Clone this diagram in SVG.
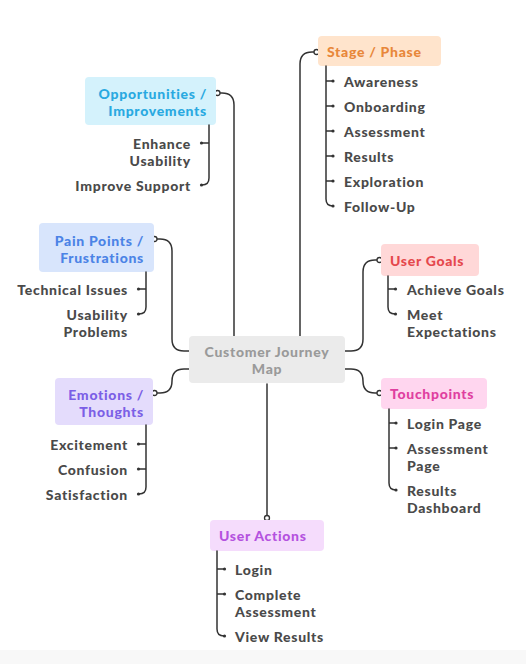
<svg xmlns="http://www.w3.org/2000/svg" width="526" height="664" viewBox="0 0 526 664">
<defs>
<style>
.t{font-family:Lato,"Open Sans","Liberation Sans",sans-serif;font-weight:900;font-size:14px;dominant-baseline:central;letter-spacing:0.7px}
.c{fill:#4a4a4a}
.e{text-anchor:end}
.m{text-anchor:middle}
.ln{fill:none;stroke:#333;stroke-width:1.5;stroke-linecap:round}
.cir{fill:#fff;stroke:#333;stroke-width:1.3}
.dot{fill:#333}
</style>
</defs>
<rect x="0" y="0" width="526" height="664" fill="#fff"/>
<rect x="0" y="650" width="526" height="14" fill="#f8f8f8"/>

<g id="connectors">
<path class="ln" d="M300,336 V64 Q300,52 312,52 H314"/>
<path class="ln" d="M220,93 H222 Q234,93 234,105 V336"/>
<path class="ln" d="M157,239 H160 Q172,239 172,251 V339 Q172,351 184,351 H189"/>
<path class="ln" d="M157,393 H160 Q172,393 172,381 Q172,369 184,369 H189"/>
<path class="ln" d="M345,351 H351 Q363,351 363,339 V272 Q363,260 375,260 H377"/>
<path class="ln" d="M345,369 H351 Q363,369 363,381 Q363,393 375,393 H377"/>
<path class="ln" d="M267,384 V515.5"/>
<circle class="cir" cx="316.5" cy="52" r="2.5"/>
<circle class="cir" cx="217.5" cy="93" r="2.5"/>
<circle class="cir" cx="154.5" cy="239" r="2.5"/>
<circle class="cir" cx="154.5" cy="393" r="2.5"/>
<circle class="cir" cx="379.5" cy="260" r="2.5"/>
<circle class="cir" cx="379.5" cy="393" r="2.5"/>
<circle class="cir" cx="267" cy="518" r="2.5"/>
</g>

<g id="center">
<rect x="189" y="336" width="156" height="47" rx="4" fill="#ebebeb"/>
<text class="t m" x="267" y="351" fill="#9a9a9a">Customer Journey<tspan x="267" dy="17">Map</tspan></text>
</g>

<g id="stage">
<rect x="318" y="36" width="123" height="30" rx="4" fill="#ffe4cc"/>
<text class="t" x="327" y="51" fill="#e8873a">Stage / Phase</text>
<path class="ln" d="M326,66 V199 Q326,206 333,206 M326,81 H333 M326,106 H333 M326,131 H333 M326,156 H333 M326,181 H333"/>
<circle class="dot" cx="333" cy="81" r="1.6"/><circle class="dot" cx="333" cy="106" r="1.6"/><circle class="dot" cx="333" cy="131" r="1.6"/><circle class="dot" cx="333" cy="156" r="1.6"/><circle class="dot" cx="333" cy="181" r="1.6"/><circle class="dot" cx="333" cy="206" r="1.6"/>
<text class="t c" x="344" y="81">Awareness</text>
<text class="t c" x="344" y="106">Onboarding</text>
<text class="t c" x="344" y="131">Assessment</text>
<text class="t c" x="344" y="156">Results</text>
<text class="t c" x="344" y="181">Exploration</text>
<text class="t c" x="344" y="206">Follow-Up</text>
</g>

<g id="opportunities">
<rect x="85" y="77" width="131" height="48" rx="4" fill="#d4f2fc"/>
<text class="t e" x="207" y="93" fill="#29a9e1">Opportunities /<tspan x="207" dy="17">Improvements</tspan></text>
<path class="ln" d="M209,125 V178 Q209,185 202,185 M209,143 H202"/>
<circle class="dot" cx="201.5" cy="143" r="1.6"/><circle class="dot" cx="201.5" cy="185" r="1.6"/>
<text class="t c e" x="191" y="143">Enhance<tspan x="191" dy="17">Usability</tspan></text>
<text class="t c e" x="191" y="185">Improve Support</text>
</g>

<g id="painpoints">
<rect x="39" y="223" width="115" height="49" rx="4" fill="#d8e5fc"/>
<text class="t e" x="144" y="240" fill="#4b83e6">Pain Points /<tspan x="144" dy="17">Frustrations</tspan></text>
<path class="ln" d="M146,272 V307 Q146,314 139,314 M146,289 H139"/>
<circle class="dot" cx="138.5" cy="289" r="1.6"/><circle class="dot" cx="138.5" cy="314" r="1.6"/>
<text class="t c e" x="128" y="289">Technical Issues</text>
<text class="t c e" x="128" y="314">Usability<tspan x="128" dy="17">Problems</tspan></text>
</g>

<g id="emotions">
<rect x="55" y="378" width="98" height="47" rx="4" fill="#e4dcfc"/>
<text class="t e" x="144" y="394" fill="#7b5fe6">Emotions /<tspan x="144" dy="17">Thoughts</tspan></text>
<path class="ln" d="M146,425 V487 Q146,494 139,494 M146,444 H139 M146,469 H139"/>
<circle class="dot" cx="138.5" cy="444" r="1.6"/><circle class="dot" cx="138.5" cy="469" r="1.6"/><circle class="dot" cx="138.5" cy="494" r="1.6"/>
<text class="t c e" x="128" y="444">Excitement</text>
<text class="t c e" x="128" y="469">Confusion</text>
<text class="t c e" x="128" y="494">Satisfaction</text>
</g>

<g id="usergoals">
<rect x="381" y="244" width="98" height="32" rx="4" fill="#ffd8d8"/>
<text class="t" x="390" y="260" fill="#e5484d">User Goals</text>
<path class="ln" d="M388,276 V307 Q388,314 395,314 M388,289 H395"/>
<circle class="dot" cx="395.5" cy="289" r="1.6"/><circle class="dot" cx="395.5" cy="314" r="1.6"/>
<text class="t c" x="407" y="289">Achieve Goals</text>
<text class="t c" x="407" y="314">Meet<tspan x="407" dy="17">Expectations</tspan></text>
</g>

<g id="touchpoints">
<rect x="381" y="378" width="106" height="31" rx="4" fill="#ffd6ef"/>
<text class="t" x="390" y="393" fill="#e03fa0">Touchpoints</text>
<path class="ln" d="M389,409 V483 Q389,490 396,490 M389,423 H396 M389,448 H396"/>
<circle class="dot" cx="396" cy="423" r="1.6"/><circle class="dot" cx="396" cy="448" r="1.6"/><circle class="dot" cx="396" cy="490" r="1.6"/>
<text class="t c" x="407" y="423">Login Page</text>
<text class="t c" x="407" y="448">Assessment<tspan x="407" dy="17">Page</tspan></text>
<text class="t c" x="407" y="490">Results<tspan x="407" dy="17">Dashboard</tspan></text>
</g>

<g id="useractions">
<rect x="210" y="520" width="114" height="31" rx="4" fill="#f5dcfc"/>
<text class="t" x="219" y="535" fill="#b452df">User Actions</text>
<path class="ln" d="M217,551 V629 Q217,636 224,636 M217,569 H224 M217,594 H224"/>
<circle class="dot" cx="224.5" cy="569" r="1.6"/><circle class="dot" cx="224.5" cy="594" r="1.6"/><circle class="dot" cx="224.5" cy="636" r="1.6"/>
<text class="t c" x="235" y="569">Login</text>
<text class="t c" x="235" y="594">Complete<tspan x="235" dy="17">Assessment</tspan></text>
<text class="t c" x="235" y="636">View Results</text>
</g>
</svg>
